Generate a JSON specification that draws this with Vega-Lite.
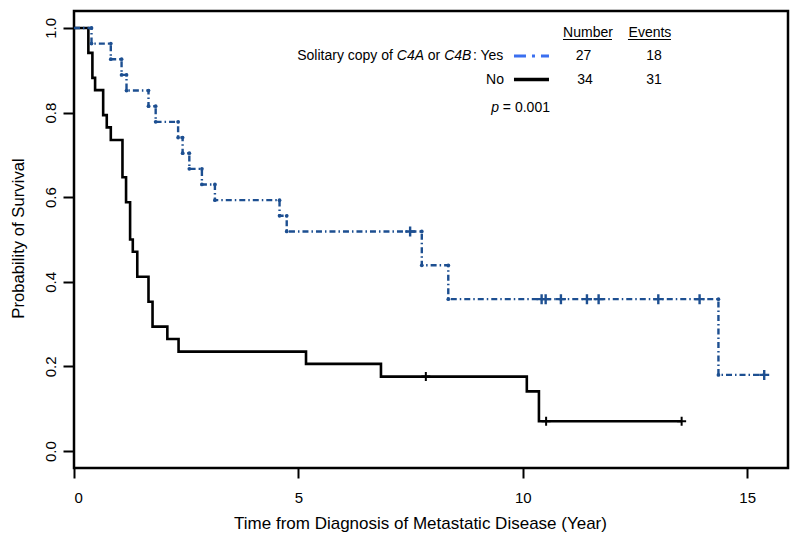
{
  "$schema": "https://vega.github.io/schema/vega-lite/v6.json",
  "autosize": {"type": "none"},
  "padding": {"left": 74, "top": 11, "right": 12, "bottom": 79},
  "width": 714,
  "height": 457,
  "background": "white",
  "config": {
    "font": "Liberation Sans",
    "view": {"stroke": "black", "strokeWidth": 2.5},
    "axis": {
      "domain": false, "grid": false, "tickColor": "black", "tickWidth": 2,
      "labelColor": "black", "titleColor": "black", "labelFont": "Liberation Sans",
      "titleFont": "Liberation Sans", "titleFontWeight": "normal",
      "labelFontSize": 15, "titleFontSize": 17
    }
  },
  "datasets": {
    "curves": [
      {"g": "Yes", "t": 0, "s": 1.0, "prev": null},
      {"g": "Yes", "t": 0.39, "s": 0.963, "prev": 1.0},
      {"g": "Yes", "t": 0.82, "s": 0.926, "prev": 0.963},
      {"g": "Yes", "t": 1.06, "s": 0.889, "prev": 0.926},
      {"g": "Yes", "t": 1.17, "s": 0.852, "prev": 0.889},
      {"g": "Yes", "t": 1.66, "s": 0.815, "prev": 0.852},
      {"g": "Yes", "t": 1.82, "s": 0.778, "prev": 0.815},
      {"g": "Yes", "t": 2.32, "s": 0.741, "prev": 0.778},
      {"g": "Yes", "t": 2.42, "s": 0.704, "prev": 0.741},
      {"g": "Yes", "t": 2.57, "s": 0.667, "prev": 0.704},
      {"g": "Yes", "t": 2.85, "s": 0.630, "prev": 0.667},
      {"g": "Yes", "t": 3.14, "s": 0.593, "prev": 0.630},
      {"g": "Yes", "t": 4.58, "s": 0.556, "prev": 0.593},
      {"g": "Yes", "t": 4.74, "s": 0.519, "prev": 0.556},
      {"g": "Yes", "t": 7.75, "s": 0.439, "prev": 0.519},
      {"g": "Yes", "t": 8.34, "s": 0.359, "prev": 0.439},
      {"g": "Yes", "t": 14.36, "s": 0.180, "prev": 0.359},
      {"g": "Yes", "t": 15.38, "s": 0.180, "prev": null},
      {"g": "No", "t": 0, "s": 1.0, "prev": null},
      {"g": "No", "t": 0.32, "s": 0.941, "prev": 1.0},
      {"g": "No", "t": 0.41, "s": 0.882, "prev": 0.941},
      {"g": "No", "t": 0.47, "s": 0.853, "prev": 0.882},
      {"g": "No", "t": 0.65, "s": 0.794, "prev": 0.853},
      {"g": "No", "t": 0.73, "s": 0.765, "prev": 0.794},
      {"g": "No", "t": 0.82, "s": 0.735, "prev": 0.765},
      {"g": "No", "t": 1.08, "s": 0.647, "prev": 0.735},
      {"g": "No", "t": 1.16, "s": 0.588, "prev": 0.647},
      {"g": "No", "t": 1.25, "s": 0.5, "prev": 0.588},
      {"g": "No", "t": 1.31, "s": 0.471, "prev": 0.5},
      {"g": "No", "t": 1.41, "s": 0.412, "prev": 0.471},
      {"g": "No", "t": 1.66, "s": 0.353, "prev": 0.412},
      {"g": "No", "t": 1.75, "s": 0.294, "prev": 0.353},
      {"g": "No", "t": 2.08, "s": 0.265, "prev": 0.294},
      {"g": "No", "t": 2.33, "s": 0.235, "prev": 0.265},
      {"g": "No", "t": 5.17, "s": 0.206, "prev": 0.235},
      {"g": "No", "t": 6.84, "s": 0.176, "prev": 0.206},
      {"g": "No", "t": 10.09, "s": 0.141, "prev": 0.176},
      {"g": "No", "t": 10.36, "s": 0.0706, "prev": 0.141},
      {"g": "No", "t": 13.54, "s": 0.0706, "prev": null}
    ],
    "censor": [
      {"g": "Yes", "t": 7.49, "s": 0.519},
      {"g": "Yes", "t": 10.42, "s": 0.359},
      {"g": "Yes", "t": 10.51, "s": 0.359},
      {"g": "Yes", "t": 10.85, "s": 0.359},
      {"g": "Yes", "t": 11.43, "s": 0.359},
      {"g": "Yes", "t": 11.69, "s": 0.359},
      {"g": "Yes", "t": 13.02, "s": 0.359},
      {"g": "Yes", "t": 13.94, "s": 0.359},
      {"g": "Yes", "t": 15.38, "s": 0.180},
      {"g": "No", "t": 7.84, "s": 0.176},
      {"g": "No", "t": 10.52, "s": 0.0706},
      {"g": "No", "t": 13.54, "s": 0.0706}
    ],
    "labels": [
      {"text": "Solitary copy of", "t": 7.107, "v": 0.9337, "kind": "right"},
      {"text": "C4A", "t": 7.799, "v": 0.9337, "kind": "italic"},
      {"text": "or", "t": 8.162, "v": 0.9337, "kind": "right"},
      {"text": "C4B", "t": 8.855, "v": 0.9337, "kind": "italic"},
      {"text": ": Yes", "t": 9.566, "v": 0.9337, "kind": "right"},
      {"text": "No", "t": 9.581, "v": 0.8781, "kind": "right"},
      {"text": "p", "t": 9.470, "v": 0.8108, "kind": "italic"},
      {"text": "= 0.001", "t": 10.606, "v": 0.8108, "kind": "right"},
      {"text": "Number", "t": 11.453, "v": 0.988, "kind": "center"},
      {"text": "Events", "t": 12.834, "v": 0.988, "kind": "center"},
      {"text": "27", "t": 11.352, "v": 0.9337, "kind": "center"},
      {"text": "34", "t": 11.386, "v": 0.8781, "kind": "center"},
      {"text": "18", "t": 12.923, "v": 0.9337, "kind": "center"},
      {"text": "31", "t": 12.923, "v": 0.8781, "kind": "center"}
    ],
    "keys": [
      {"g": "Yes", "t": 9.804, "t2": 10.584, "v": 0.9337},
      {"g": "No", "t": 9.804, "t2": 10.584, "v": 0.8781}
    ],
    "underlines": [
      {"t": 10.896, "t2": 11.988, "v": 0.9727},
      {"t": 12.344, "t2": 13.302, "v": 0.9727}
    ]
  },
  "encoding": {
    "x": {"field": "t", "type": "quantitative",
      "scale": {"domain": [0, 15.91], "nice": false, "zero": false},
      "axis": {"values": [0, 5, 10, 15], "tickSize": 10, "labelPadding": 12,
        "title": "Time from Diagnosis of Metastatic Disease (Year)",
        "titleX": 346, "titleY": 55, "titleAlign": "center", "titleBaseline": "middle"}},
    "y": {"field": "s", "type": "quantitative",
      "scale": {"domain": [-0.04, 1.04], "nice": false, "zero": false},
      "axis": {"values": [0, 0.2, 0.4, 0.6, 0.8, 1.0], "format": ".1f", "tickSize": 11,
        "labelAngle": 270, "labelAlign": "center", "labelBaseline": "alphabetic", "labelPadding": 8,
        "title": "Probability of Survival", "titleAngle": 270, "titleX": -56, "titleY": 227,
        "titleFontSize": 16.7, "titleAlign": "center", "titleBaseline": "middle"}}
  },
  "layer": [
    {
      "data": {"name": "curves"},
      "transform": [{"filter": "datum.g === 'No'"}],
      "mark": {"type": "line", "interpolate": "step-after", "color": "black", "strokeWidth": 2.6},
      "encoding": {}
    },
    {
      "data": {"name": "curves"},
      "transform": [{"filter": "datum.g === 'Yes'"}],
      "mark": {"type": "line", "interpolate": "step-after", "color": "#1d4f91", "strokeWidth": 2.4, "strokeDash": [6, 3, 1.5, 3]},
      "encoding": {}
    },
    {
      "data": {"name": "curves"},
      "transform": [{"filter": "datum.g === 'Yes' && datum.prev != null"}],
      "mark": {"type": "point", "filled": true, "color": "#1d4f91", "size": 14, "opacity": 1},
      "encoding": {}
    },
    {
      "data": {"name": "curves"},
      "transform": [{"filter": "datum.g === 'Yes' && datum.prev != null"}],
      "mark": {"type": "point", "filled": true, "color": "#1d4f91", "size": 14, "opacity": 1},
      "encoding": {"y": {"field": "prev", "type": "quantitative"}}
    },
    {
      "data": {"name": "censor"},
      "transform": [{"filter": "datum.g === 'Yes'"}],
      "mark": {"type": "point", "shape": "M-1,0L1,0M0,-1L0,1", "filled": false, "color": "#1d4f91", "strokeWidth": 2.4, "size": 100, "opacity": 1},
      "encoding": {}
    },
    {
      "data": {"name": "censor"},
      "transform": [{"filter": "datum.g === 'No'"}],
      "mark": {"type": "point", "shape": "M-1,0L1,0M0,-1L0,1", "filled": false, "color": "black", "strokeWidth": 2, "size": 81, "opacity": 1},
      "encoding": {}
    },
    {
      "data": {"name": "keys"},
      "transform": [{"filter": "datum.g === 'Yes'"}],
      "mark": {"type": "rule", "color": "#3a6ff0", "strokeWidth": 3, "strokeDash": [12, 6, 3, 6]},
      "encoding": {"x2": {"field": "t2"}, "y": {"field": "v", "type": "quantitative"}}
    },
    {
      "data": {"name": "keys"},
      "transform": [{"filter": "datum.g === 'No'"}],
      "mark": {"type": "rule", "color": "black", "strokeWidth": 3.5},
      "encoding": {"x2": {"field": "t2"}, "y": {"field": "v", "type": "quantitative"}}
    },
    {
      "data": {"name": "underlines"},
      "mark": {"type": "rule", "color": "black", "strokeWidth": 1.2},
      "encoding": {"x2": {"field": "t2"}, "y": {"field": "v", "type": "quantitative"}}
    },
    {
      "data": {"name": "labels"},
      "transform": [{"filter": "datum.kind === 'right'"}],
      "mark": {"type": "text", "align": "right", "baseline": "middle", "fontSize": 14, "color": "black"},
      "encoding": {"text": {"field": "text"}, "y": {"field": "v", "type": "quantitative"}}
    },
    {
      "data": {"name": "labels"},
      "transform": [{"filter": "datum.kind === 'italic'"}],
      "mark": {"type": "text", "align": "right", "baseline": "middle", "fontSize": 14, "fontStyle": "italic", "color": "black"},
      "encoding": {"text": {"field": "text"}, "y": {"field": "v", "type": "quantitative"}}
    },
    {
      "data": {"name": "labels"},
      "transform": [{"filter": "datum.kind === 'center'"}],
      "mark": {"type": "text", "align": "center", "baseline": "middle", "fontSize": 14, "color": "black"},
      "encoding": {"text": {"field": "text"}, "y": {"field": "v", "type": "quantitative"}}
    }
  ]
}
